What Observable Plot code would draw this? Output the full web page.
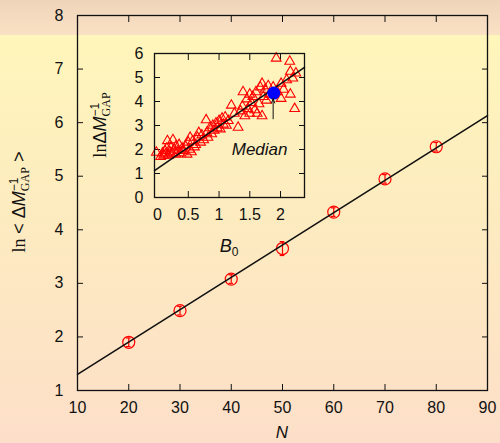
<!DOCTYPE html>
<html><head><meta charset="utf-8">
<script src="https://cdn.jsdelivr.net/npm/d3@7"></script>
<script src="https://cdn.jsdelivr.net/npm/@observablehq/plot@0.6"></script>
<style>
html,body{margin:0;padding:0;}
body{width:500px;height:443px;overflow:hidden;
background:linear-gradient(to bottom,#eed5ba 0px,#fbe1c4 35px,#fff6bb 35px,#fdebc0 220px,#fddfc9 443px);
font-family:"Liberation Sans",Arial,sans-serif;}
#wrap{position:relative;width:500px;height:443px;}
#wrap svg{position:absolute;left:0;top:0;}
</style></head><body><div id="wrap"></div>
<script>
// Main panel
const N = [20, 30, 40, 50, 60, 70, 80];
const lnGap = [1.9, 2.49, 3.08, 3.65, 4.33, 4.95, 5.55];
const errGap = [0.08, 0.08, 0.08, 0.13, 0.08, 0.08, 0.08];
const fitN = [10, 90];
const fitLn = [1.3, 6.13];
const xTicks = [10, 20, 30, 40, 50, 60, 70, 80, 90];
const xInnerTicks = [20, 30, 40, 50, 60, 70, 80];
const yTicks = [1, 2, 3, 4, 5, 6, 7, 8];
const yInnerTicks = [2, 3, 4, 5, 6, 7];

// Inset panel
const b0 = [-0.02,0.05,0.08,0.1,0.12,0.13,0.15,0.16,0.18,0.2,0.22,0.24,0.25,0.27,0.3,0.3,0.33,0.35,0.38,0.4,
  0.42,0.45,0.48,0.5,0.52,0.53,0.55,0.57,0.6,0.62,0.65,0.67,0.7,0.72,0.75,0.79,0.8,0.82,0.85,0.88,
  0.9,0.92,0.95,0.97,1.0,1.02,1.05,1.07,1.1,1.12,1.15,1.2,1.25,1.31,1.35,1.38,1.39,1.42,1.45,1.47,
  1.5,1.5,1.53,1.55,1.58,1.6,1.62,1.65,1.67,1.7,1.7,1.72,1.75,1.77,1.8,1.82,1.88,1.93,1.95,2.01,
  2.01,2.05,2.1,2.15,2.16,2.16,2.2,2.25,2.23];
const lnInset = [1.88,1.7,1.85,1.75,1.95,1.8,2.05,2.36,1.75,1.9,2.1,1.85,2.4,2.0,1.8,2.15,1.95,2.2,1.85,2.05,
  1.95,2.15,1.8,2.3,2.0,2.5,1.9,2.35,2.1,2.2,2.5,2.7,2.3,2.6,2.4,3.23,2.7,2.5,2.9,2.65,
  3.0,2.8,3.1,2.9,3.2,2.85,3.3,3.05,3.35,3.0,3.2,3.84,3.5,2.92,3.6,3.8,4.4,3.4,4.1,3.7,
  4.3,3.5,3.95,4.2,3.65,4.4,3.5,3.9,4.6,4.75,3.4,4.2,4.5,4.05,4.65,4.3,4.6,5.8,4.4,4.75,
  4.12,4.5,4.9,5.67,5.25,4.3,4.97,5.18,3.7];
const insetFitB = [-0.05, 2.39];
const insetFitLn = [1.12, 5.42];
const medianB = [1.89];
const medianLn = [4.35];
const arrowB = [1.88];
const arrowFrom = [3.28];
const arrowTo = [4.12];
const medianLabel = ["Median"];
const medianLabelB = [1.66];
const medianLabelLn = [1.79];
const bTicks = [0, 0.5, 1, 1.5, 2];
const bInnerTicks = [0.5, 1, 1.5, 2];
const lnTicks = [0, 1, 2, 3, 4, 5, 6];
const lnInnerTicks = [1, 2, 3, 4, 5];

const ink = "#111";
const font = "'Liberation Sans', Arial, sans-serif";
const serif = "'Liberation Serif', 'Times New Roman', serif";

const pts = N.map((n, i) => ({n, v: lnGap[i], lo: lnGap[i] - errGap[i], hi: lnGap[i] + errGap[i]}));
const fit = fitN.map((n, i) => ({n, v: fitLn[i]}));
const ins = b0.map((b, i) => ({b, v: lnInset[i]}));
const insFit = insetFitB.map((b, i) => ({b, v: insetFitLn[i]}));

const styleObj = {background: "transparent", fontFamily: font, fontSize: "16px", color: ink, overflow: "visible"};
const blank = () => "";
const fs = 16;

const main = Plot.plot({
  width: 500, height: 443,
  marginLeft: 77, marginRight: 13, marginTop: 15, marginBottom: 53,
  style: styleObj,
  x: {domain: [10, 90]},
  y: {domain: [1, 8]},
  marks: [
    Plot.axisX({ticks: xTicks, tickSize: 0, tickPadding: 11, label: null, fontSize: fs, fill: ink, tickFormat: d => String(d)}),
    Plot.axisY({ticks: yTicks, tickSize: 0, tickPadding: 14, label: null, fontSize: fs, fill: ink, tickFormat: d => String(d)}),
    Plot.axisX({ticks: xInnerTicks, anchor: "bottom", tickSize: 6, dy: -6, tickFormat: blank, label: null, stroke: ink}),
    Plot.axisX({ticks: xInnerTicks, anchor: "top", tickSize: 6, dy: 6, tickFormat: blank, label: null, stroke: ink}),
    Plot.axisY({ticks: yInnerTicks, anchor: "left", tickSize: 6, dx: 6, tickFormat: blank, label: null, stroke: ink}),
    Plot.axisY({ticks: yInnerTicks, anchor: "right", tickSize: 6, dx: -6, tickFormat: blank, label: null, stroke: ink}),
    Plot.ruleX(pts, {x: "n", y1: "lo", y2: "hi", stroke: "#ff0000", strokeWidth: 1.2}),
    Plot.ruleY(pts, {y: "lo", x1: d => d.n - 0.45, x2: d => d.n + 0.45, stroke: "#ff0000", strokeWidth: 1.2}),
    Plot.ruleY(pts, {y: "hi", x1: d => d.n - 0.45, x2: d => d.n + 0.45, stroke: "#ff0000", strokeWidth: 1.2}),
    Plot.dot(pts, {x: "n", y: "v", r: 6, stroke: "#ff0000", fill: "none", strokeWidth: 1.2}),
    Plot.line(fit, {x: "n", y: "v", stroke: ink, strokeWidth: 1.6}),
    Plot.frame({stroke: ink, strokeWidth: 1.3})
  ]
});

const inset = Plot.plot({
  width: 500, height: 443,
  marginLeft: 154, marginRight: 196, marginTop: 53, marginBottom: 246,
  style: styleObj,
  x: {domain: [-0.05, 2.39]},
  y: {domain: [0, 6]},
  marks: [
    Plot.axisX({ticks: bTicks, tickSize: 0, tickPadding: 11, label: null, fontSize: fs, fill: ink, tickFormat: d => String(d)}),
    Plot.axisY({ticks: lnTicks, tickSize: 0, tickPadding: 11, label: null, fontSize: fs, fill: ink, tickFormat: d => String(d)}),
    Plot.axisX({ticks: bInnerTicks, anchor: "bottom", tickSize: 6, dy: -6, tickFormat: blank, label: null, stroke: ink}),
    Plot.axisX({ticks: bInnerTicks, anchor: "top", tickSize: 6, dy: 6, tickFormat: blank, label: null, stroke: ink}),
    Plot.axisY({ticks: lnInnerTicks, anchor: "left", tickSize: 6, dx: 6, tickFormat: blank, label: null, stroke: ink}),
    Plot.axisY({ticks: lnInnerTicks, anchor: "right", tickSize: 6, dx: -6, tickFormat: blank, label: null, stroke: ink}),
    Plot.dot(ins, {x: "b", y: "v", symbol: "triangle", r: 3.6, stroke: "#ff0000", fill: "none", strokeWidth: 1.1}),
    Plot.line(insFit, {x: "b", y: "v", stroke: ink, strokeWidth: 1.6}),
    Plot.dot(medianB.map((b, i) => ({b, v: medianLn[i]})), {x: "b", y: "v", r: 6.5, fill: "#0000ff", stroke: "none"}),
    Plot.arrow(arrowB.map((b, i) => ({b, a: arrowFrom[i], c: arrowTo[i]})), {x1: "b", y1: "a", x2: "b", y2: "c", stroke: ink, strokeWidth: 1, headLength: 7, headAngle: 40}),
    Plot.text(medianLabel.map((t, i) => ({t, b: medianLabelB[i], v: medianLabelLn[i]})), {x: "b", y: "v", text: "t", fontSize: 17, fontStyle: "italic", fill: ink, lineAnchor: "bottom", textAnchor: "middle"}),
    Plot.frame({stroke: ink, strokeWidth: 1.3})
  ]
});

const wrap = document.getElementById("wrap");
wrap.appendChild(main);
wrap.appendChild(inset);

// Axis titles with sub/superscripts
function yTitle(svg, x, y, withSpaces) {
  const t = d3.select(svg).append("text")
    .attr("transform", `translate(${x},${y}) rotate(-90)`)
    .attr("text-anchor", "middle").attr("font-size", 18).attr("fill", ink)
    .attr("font-family", font);
  t.append("tspan").attr("font-family", serif).text(withSpaces ? "ln " : "ln");
  if (withSpaces) t.append("tspan").text("< ");
  t.append("tspan").text("Δ");
  t.append("tspan").attr("font-style", "italic").text("M");
  t.append("tspan").attr("font-size", 12).attr("dy", -7).text("−1");
  t.append("tspan").attr("font-size", 12).attr("font-family", serif).attr("dx", -13.5).attr("dy", 11).text("GAP");
  if (withSpaces) t.append("tspan").attr("dy", -4).text(" >");
}
yTitle(main, 25, 202, true);
yTitle(inset, 106, 125, false);

d3.select(main).append("text")
  .attr("x", 282).attr("y", 438).attr("text-anchor", "middle")
  .attr("font-size", 17).attr("font-style", "italic").attr("fill", ink).attr("font-family", font)
  .text("N");

const bt = d3.select(inset).append("text")
  .attr("x", 229).attr("y", 252).attr("text-anchor", "middle")
  .attr("font-size", 18).attr("fill", ink).attr("font-family", font);
bt.append("tspan").attr("font-style", "italic").text("B");
bt.append("tspan").attr("font-size", 12).attr("dy", 4).text("0");
</script>
</body></html>
